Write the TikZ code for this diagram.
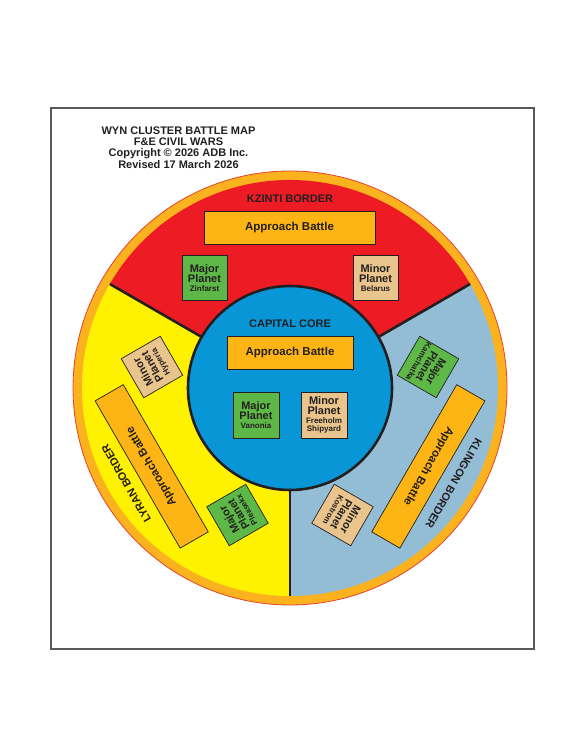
\documentclass[tikz,border=0pt]{standalone}
\usepackage{fontspec}
\setmainfont{Liberation Sans}
\definecolor{kred}{HTML}{ED1C24}
\definecolor{lyel}{HTML}{FFF200}
\definecolor{kblue}{HTML}{93BDD4}
\definecolor{corebl}{HTML}{0896D7}
\definecolor{ringor}{HTML}{FBB21F}
\definecolor{ringedge}{HTML}{E8412C}
\definecolor{appr}{HTML}{FDB515}
\definecolor{pgreen}{HTML}{5EB847}
\definecolor{ptan}{HTML}{E9C48C}
\definecolor{ink}{HTML}{231F20}
\newcommand\pbig{\fontsize{11}{10.5}\selectfont\bfseries}
\newcommand\psmall{\fontsize{8}{8.5}\selectfont\bfseries}
\begin{document}
\begin{tikzpicture}[x=1pt,y=1pt,
  every node/.style={text=ink},
  apbox/.style={draw=ink, line width=0.7pt, fill=appr, inner sep=0pt, font=\fontsize{11.5}{12}\selectfont\bfseries},
  planetbox/.style={draw=ink, line width=0.7pt, minimum width=45pt, minimum height=45pt, inner sep=0pt, align=center, font=\pbig},
  major/.style={planetbox, fill=pgreen},
  minor/.style={planetbox, fill=ptan},
  border/.style={font=\fontsize{11}{12}\selectfont\bfseries, inner sep=0pt},
  divider/.style={line width=2.6pt, draw=ink}
]
\useasboundingbox (0,0) rectangle (580,751);
\fill[white] (0,0) rectangle (580,751);
\node[draw=black!65, line width=1.2pt, minimum width=483pt, minimum height=541pt, inner sep=0pt] (frame) at (292.5,372.5) {};

\coordinate (C) at (290,363);
\filldraw[fill=ringor, draw=ringedge, line width=0.8pt] (C) circle[radius=217];
\fill[kred] (C) -- ++(30:208) arc[start angle=30,end angle=150,radius=208] -- cycle;
\fill[lyel] (C) -- ++(150:208) arc[start angle=150,end angle=270,radius=208] -- cycle;
\fill[kblue] (C) -- ++(270:208) arc[start angle=270,end angle=390,radius=208] -- cycle;
\draw[divider] (C) -- ++(30:208);
\draw[divider] (C) -- ++(150:208);
\draw[divider] (C) -- ++(270:208);
\node[circle, draw=ink, line width=2.6pt, fill=corebl, minimum size=204pt, inner sep=0pt] (core) at (C) {};

% title
\node[anchor=north, align=center, inner sep=0pt, font=\fontsize{11}{11.2}\selectfont\bfseries] (title) at (178.5,624.3)
  {WYN CLUSTER BATTLE MAP\\F\&E CIVIL WARS\\Copyright © 2026 ADB Inc.\\Revised 17 March 2026};

% Kzinti border
\node[border] (kz) at (290,552.3) {KZINTI BORDER};
\node[apbox, minimum width=171pt, minimum height=33pt] (kap) at (289.5,523.5) {Approach Battle};
\node[major] (kmaj) at (204.5,473) {Major\\Planet\\[-2pt]\psmall Zinfarst};
\node[minor] (kmin) at (375.5,473) {Minor\\Planet\\[-2pt]\psmall Belarus};

% Capital core
\node[border] (cc) at (290,427) {CAPITAL CORE};
\node[apbox, minimum width=126pt, minimum height=33pt] (cap) at (290,398.5) {Approach Battle};
\node[major, minimum size=46pt] (cmaj) at (256,336) {Major\\Planet\\[-2pt]\psmall Vanonia};
\node[minor, minimum size=46pt] (cmin) at (324,336) {Minor\\Planet\\[-2pt]\psmall Freeholm\\[-2pt]\psmall Shipyard};

% Lyran border
\node[minor, rotate=120] (lmin) at (152,384) {Minor\\Planet\\[-2pt]\psmall Hyperia};
\node[major, rotate=120] (lmaj) at (237.5,236) {Major\\Planet\\[-2pt]\psmall Pleasekx};
\node[apbox, rotate=120, minimum width=170pt, minimum height=32.5pt] (lap) at (151.7,284.6) {Approach Battle};
\node[border, rotate=120] (ly) at (126.3,267.5) {LYRAN BORDER};

% Klingon border
\node[major, rotate=-120] (rmaj) at (428,384) {Major\\Planet\\[-2pt]\psmall Kamchatka};
\node[minor, rotate=-120] (rmin) at (342.5,236) {Minor\\Planet\\[-2pt]\psmall Kostrom};
\node[apbox, rotate=-120, minimum width=170pt, minimum height=32.5pt] (rap) at (428.3,284.6) {Approach Battle};
\node[border, rotate=-120] (kl) at (453.7,267.5) {KLINGON BORDER};
\end{tikzpicture}
\end{document}
